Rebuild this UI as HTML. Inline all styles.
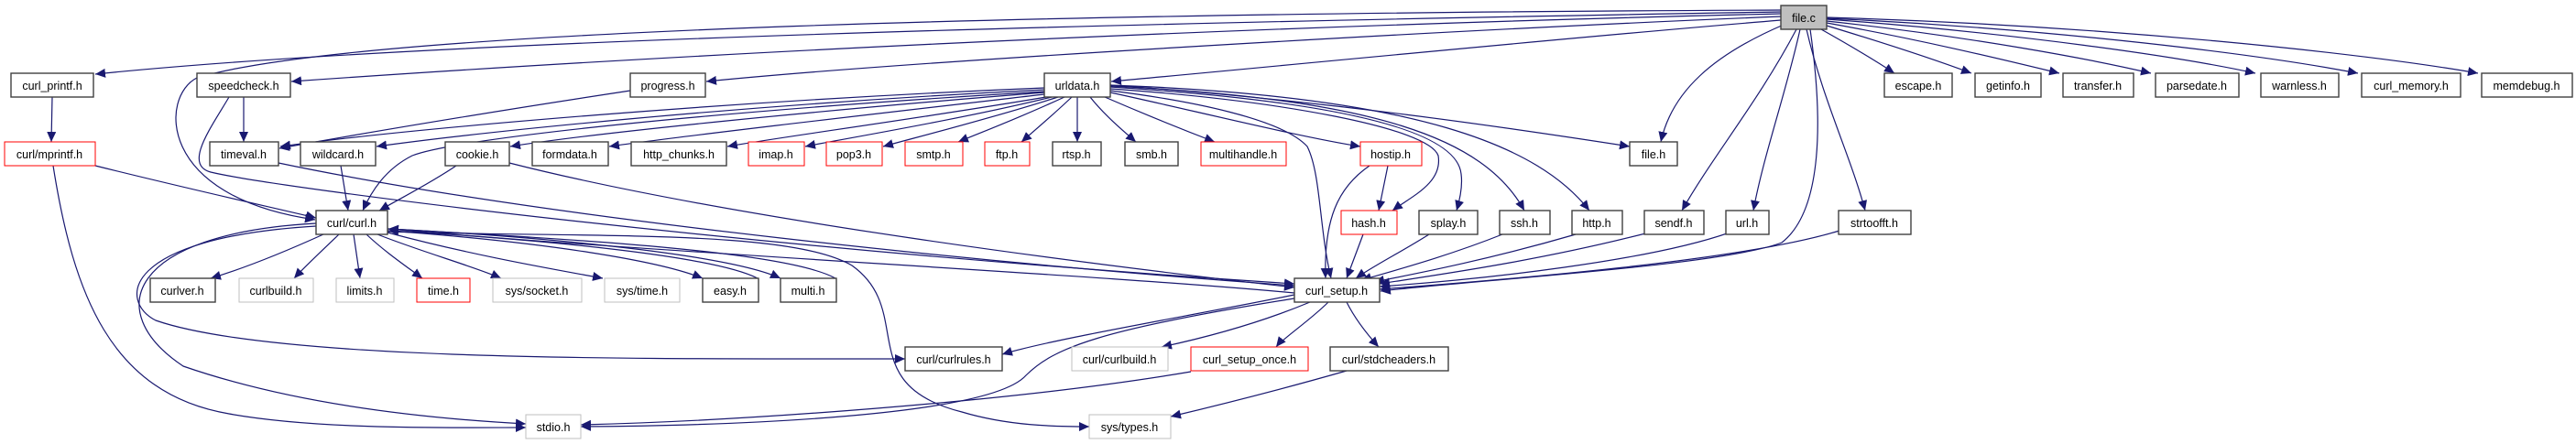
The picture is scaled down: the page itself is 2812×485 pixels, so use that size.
<!DOCTYPE html>
<html><head><meta charset="utf-8"><style>
html,body{margin:0;padding:0;background:#fff;}
svg{display:block;}
text{font-family:"Liberation Sans",Arial,sans-serif;font-size:12.5px;fill:#000;}
</style></head><body>
<svg width="2812" height="485" viewBox="0 0 2812 485" xmlns="http://www.w3.org/2000/svg">
<defs>
<marker id="a" markerUnits="userSpaceOnUse" markerWidth="12" markerHeight="10" refX="11" refY="5" orient="auto">
<path d="M0,0 L11,5 L0,10 Z" fill="#191970"/>
</marker>
</defs>
<g fill="none" stroke="#191970" stroke-width="1.2" marker-end="url(#a)">
<path d="M1944,13 C1400,22 500,40 104,81"/>
<path d="M1944,11 C1200,14 400,30 215,85 C175,105 170,215 344,240"/>
<path d="M1944,15 C1300,30 700,62 318,89"/>
<path d="M1944,18 C1600,32 1000,66 771,89"/>
<path d="M1944,22 C1700,42 1400,72 1213,89"/>
<path d="M1947,27 C1870,60 1825,100 1813,155"/>
<path d="M1961,32 C1920,110 1870,170 1836,230"/>
<path d="M1965,32 C1950,100 1925,170 1914,230"/>
<path d="M1976,32 C1990,130 1990,230 1945,265 C1880,290 1620,305 1507,318"/>
<path d="M1972,32 C1990,110 2020,170 2036,230"/>
<path d="M1988,32 C2020,50 2050,68 2068,80"/>
<path d="M1994,28 C2060,48 2120,68 2152,80"/>
<path d="M1994,25 C2100,44 2190,66 2248,80"/>
<path d="M1994,23 C2150,40 2280,64 2348,80"/>
<path d="M1994,21 C2200,36 2380,62 2462,80"/>
<path d="M1994,20 C2250,32 2470,60 2574,80"/>
<path d="M1994,19 C2300,28 2580,58 2705,80"/>
<path d="M57,106 L56,155"/>
<path d="M266,106 L266,155"/>
<path d="M250,106 C230,140 200,180 230,188 C300,205 800,270 1413,310"/>
<path d="M688,99 C550,120 400,145 305,162"/>
<path d="M1140,96 C800,110 450,140 306,160"/>
<path d="M1140,98 C800,115 520,145 411,160"/>
<path d="M1140,100 C800,120 500,150 450,170 C420,185 405,210 396,230"/>
<path d="M1140,101 C900,120 650,145 557,160"/>
<path d="M1140,103 C950,125 750,148 665,160"/>
<path d="M1142,106 C1000,130 850,150 794,160"/>
<path d="M1148,106 C1050,130 930,150 879,160"/>
<path d="M1155,106 C1080,130 1000,150 964,160"/>
<path d="M1162,106 C1110,130 1070,145 1046,155"/>
<path d="M1170,106 C1150,125 1130,142 1115,155"/>
<path d="M1176,106 L1176,155"/>
<path d="M1190,106 C1205,125 1225,142 1240,155"/>
<path d="M1206,106 C1250,125 1300,145 1326,155"/>
<path d="M1212,101 C1300,120 1420,150 1485,160"/>
<path d="M1212,99 C1300,110 1400,130 1427,160 C1442,190 1440,250 1453,304"/>
<path d="M1212,97 C1400,110 1560,140 1570,170 C1575,200 1540,215 1520,230"/>
<path d="M1212,95 C1450,110 1590,140 1595,190 C1597,205 1593,220 1590,230"/>
<path d="M1212,94 C1500,108 1620,150 1664,230"/>
<path d="M1212,93 C1550,105 1680,160 1735,230"/>
<path d="M1212,93 C1450,110 1650,140 1779,160"/>
<path d="M104,181 C200,205 290,225 345,238"/>
<path d="M372,181 L380,230"/>
<path d="M498,181 C470,200 440,215 414,230"/>
<path d="M304,178 C600,240 1100,290 1413,312"/>
<path d="M556,178 C800,240 1200,290 1413,314"/>
<path d="M58,181 C80,320 120,430 250,452 C350,470 500,467 574,467"/>
<path d="M1515,181 L1505,230"/>
<path d="M1495,181 C1460,205 1445,240 1447,304"/>
<path d="M1488,256 L1470,304"/>
<path d="M1560,256 C1530,275 1500,290 1480,304"/>
<path d="M1640,256 C1580,280 1520,296 1486,306"/>
<path d="M1720,256 C1620,285 1540,300 1500,308"/>
<path d="M1800,254 C1680,285 1570,300 1506,310"/>
<path d="M1888,254 C1800,285 1620,305 1506,313"/>
<path d="M2008,252 C1900,285 1650,305 1506,316"/>
<path d="M353,256 C300,280 260,295 230,304"/>
<path d="M370,256 C350,275 332,292 321,304"/>
<path d="M386,256 L393,304"/>
<path d="M400,256 C420,275 445,292 461,304"/>
<path d="M412,256 C460,275 520,292 547,304"/>
<path d="M423,254 C520,280 610,295 658,304"/>
<path d="M423,252 C600,265 720,285 767,304"/>
<path d="M423,250 C620,260 800,280 852,304"/>
<path d="M827,304 C780,280 600,262 424,252"/>
<path d="M912,304 C860,275 640,262 424,250"/>
<path d="M1413,320 C1200,300 700,275 424,250"/>
<path d="M423,253 C650,260 860,250 930,290 C1000,340 930,420 1050,450 C1100,465 1150,466 1189,466"/>
<path d="M345,244 C140,255 110,340 200,400 C330,445 480,458 574,463"/>
<path d="M345,247 C130,260 130,330 170,350 C300,395 700,392 988,392"/>
<path d="M1413,322 C1300,345 1150,370 1094,387"/>
<path d="M1413,326 C1200,360 1150,380 1120,410 C1080,455 800,465 634,466"/>
<path d="M1300,406 C1100,440 800,460 634,464"/>
<path d="M1430,330 C1370,355 1310,370 1268,379"/>
<path d="M1450,330 C1430,350 1400,370 1393,379"/>
<path d="M1470,330 C1480,350 1495,368 1505,379"/>
<path d="M1470,405 C1400,425 1320,445 1278,455"/>
</g>
<g stroke-width="1.4">
<rect x="1944" y="6" width="50" height="26" fill="#bfbfbf" stroke="#404040"/>
<g fill="#fff" stroke="#404040">
<rect x="12" y="80" width="90" height="26"/>
<rect x="215" y="80" width="102" height="26"/>
<rect x="688" y="80" width="82" height="26"/>
<rect x="1140" y="80" width="72" height="26"/>
<rect x="2057" y="80" width="74" height="26"/>
<rect x="2156" y="80" width="72" height="26"/>
<rect x="2252" y="80" width="77" height="26"/>
<rect x="2353" y="80" width="91" height="26"/>
<rect x="2468" y="80" width="85" height="26"/>
<rect x="2578" y="80" width="108" height="26"/>
<rect x="2709" y="80" width="99" height="26"/>
<rect x="229" y="155" width="75" height="26"/>
<rect x="328" y="155" width="82" height="26"/>
<rect x="486" y="155" width="70" height="26"/>
<rect x="581" y="155" width="83" height="26"/>
<rect x="689" y="155" width="104" height="26"/>
<rect x="1149" y="155" width="53" height="26"/>
<rect x="1228" y="155" width="58" height="26"/>
<rect x="1779" y="155" width="52" height="26"/>
<rect x="345" y="230" width="78" height="26"/>
<rect x="1549" y="230" width="64" height="26"/>
<rect x="1637" y="230" width="55" height="26"/>
<rect x="1716" y="230" width="55" height="26"/>
<rect x="1795" y="230" width="65" height="26"/>
<rect x="1884" y="230" width="47" height="26"/>
<rect x="2007" y="230" width="79" height="26"/>
<rect x="164" y="304" width="71" height="26"/>
<rect x="767" y="304" width="61" height="26"/>
<rect x="852" y="304" width="61" height="26"/>
<rect x="1413" y="304" width="93" height="26"/>
<rect x="988" y="379" width="106" height="26"/>
<rect x="1452" y="379" width="129" height="26"/>
</g>
<g fill="#fff" stroke="#ff0000" stroke-width="1">
<rect x="5" y="155" width="99" height="26"/>
<rect x="817" y="155" width="61" height="26"/>
<rect x="902" y="155" width="61" height="26"/>
<rect x="988" y="155" width="63" height="26"/>
<rect x="1075" y="155" width="49" height="26"/>
<rect x="1311" y="155" width="93" height="26"/>
<rect x="1485" y="155" width="67" height="26"/>
<rect x="1464" y="230" width="61" height="26"/>
<rect x="455" y="304" width="58" height="26"/>
<rect x="1300" y="379" width="128" height="26"/>
</g>
<g fill="#fff" stroke="#bfbfbf" stroke-width="1">
<rect x="261" y="304" width="81" height="26"/>
<rect x="367" y="304" width="63" height="26"/>
<rect x="538" y="304" width="97" height="26"/>
<rect x="660" y="304" width="82" height="26"/>
<rect x="1170" y="379" width="105" height="26"/>
<rect x="574" y="453" width="60" height="26"/>
<rect x="1189" y="453" width="89" height="26"/>
</g>
</g>
<g text-anchor="middle">
<text x="1969" y="24">file.c</text>
<text x="57" y="98">curl_printf.h</text>
<text x="266" y="98">speedcheck.h</text>
<text x="729" y="98">progress.h</text>
<text x="1176" y="98">urldata.h</text>
<text x="2094" y="98">escape.h</text>
<text x="2192" y="98">getinfo.h</text>
<text x="2290" y="98">transfer.h</text>
<text x="2398" y="98">parsedate.h</text>
<text x="2510" y="98">warnless.h</text>
<text x="2632" y="98">curl_memory.h</text>
<text x="2758" y="98">memdebug.h</text>
<text x="54" y="173">curl/mprintf.h</text>
<text x="266" y="173">timeval.h</text>
<text x="369" y="173">wildcard.h</text>
<text x="521" y="173">cookie.h</text>
<text x="622" y="173">formdata.h</text>
<text x="741" y="173">http_chunks.h</text>
<text x="847" y="173">imap.h</text>
<text x="932" y="173">pop3.h</text>
<text x="1019" y="173">smtp.h</text>
<text x="1099" y="173">ftp.h</text>
<text x="1175" y="173">rtsp.h</text>
<text x="1257" y="173">smb.h</text>
<text x="1357" y="173">multihandle.h</text>
<text x="1518" y="173">hostip.h</text>
<text x="1805" y="173">file.h</text>
<text x="384" y="248">curl/curl.h</text>
<text x="1494" y="248">hash.h</text>
<text x="1581" y="248">splay.h</text>
<text x="1664" y="248">ssh.h</text>
<text x="1743" y="248">http.h</text>
<text x="1827" y="248">sendf.h</text>
<text x="1907" y="248">url.h</text>
<text x="2046" y="248">strtoofft.h</text>
<text x="199" y="322">curlver.h</text>
<text x="301" y="322">curlbuild.h</text>
<text x="398" y="322">limits.h</text>
<text x="484" y="322">time.h</text>
<text x="586" y="322">sys/socket.h</text>
<text x="701" y="322">sys/time.h</text>
<text x="797" y="322">easy.h</text>
<text x="882" y="322">multi.h</text>
<text x="1459" y="322">curl_setup.h</text>
<text x="1041" y="397">curl/curlrules.h</text>
<text x="1222" y="397">curl/curlbuild.h</text>
<text x="1364" y="397">curl_setup_once.h</text>
<text x="1516" y="397">curl/stdcheaders.h</text>
<text x="604" y="471">stdio.h</text>
<text x="1233" y="471">sys/types.h</text>
</g>
</svg>
</body></html>
